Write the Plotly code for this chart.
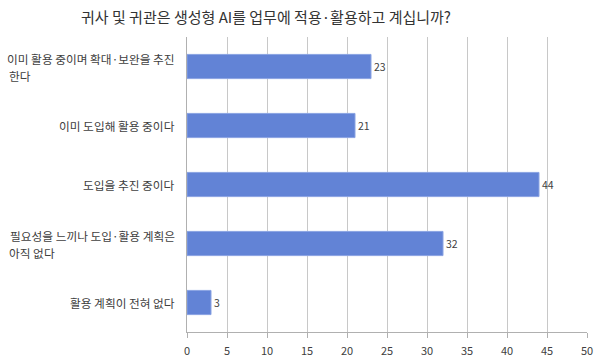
import plotly.graph_objects as go

categories = [
    "이미 활용 중이며 확대·보완을 추진<br>한다",
    "이미 도입해 활용 중이다",
    "도입을 추진 중이다",
    "필요성을 느끼나 도입·활용 계획은<br>아직 없다",
    "활용 계획이 전혀 없다",
]
values = [23, 21, 44, 32, 3]
tick_vals = [0, 5, 10, 15, 20, 25, 30, 35, 40, 45, 50]
title_text = "귀사 및 귀관은 생성형 AI를 업무에 적용·활용하고 계십니까?"

FONT = "Noto Sans CJK KR"

L, R, T, B = 187, 13, 37, 31
W, H = 600, 363
pw = W - L - R
ph = H - T - B

fig = go.Figure()
fig.add_trace(go.Bar(
    y=categories,
    x=values,
    orientation="h",
    marker=dict(color="#6283d6", line=dict(color="#8aa3e3", width=1)),
    text=[str(v) for v in values],
    textposition="outside",
    textfont=dict(family=FONT, size=10.5, color="#404040"),
    cliponaxis=False,
    hoverinfo="skip",
))

label_font = dict(family=FONT, size=11.7, color="#404040")
for c in categories:
    lines = c.split("<br>")
    if len(lines) == 1:
        fig.add_annotation(
            x=0, xref="x", y=c, yref="y", text=c, showarrow=False,
            xanchor="right", yanchor="middle", xshift=-11, borderpad=0,
            font=label_font,
        )
    else:
        fig.add_annotation(
            x=0, xref="x", y=c, yref="y", text=lines[0], showarrow=False,
            xanchor="right", yanchor="middle", xshift=-11, yshift=8.5, borderpad=0,
            font=label_font,
        )
        fig.add_annotation(
            x=(8 - L) / pw, xref="paper", y=c, yref="y", text=lines[1], showarrow=False,
            xanchor="left", yanchor="middle", yshift=-8.5, borderpad=0,
            font=label_font,
        )

fig.add_annotation(
    xref="paper", yref="paper",
    x=(266 - L) / pw, y=((H - 16) - B) / ph,
    xanchor="center", yanchor="middle",
    text=title_text, showarrow=False,
    font=dict(family=FONT, size=15, color="#333333"),
)

fig.update_layout(
    width=W, height=H,
    margin=dict(l=L, r=R, t=T, b=B, autoexpand=False),
    paper_bgcolor="white", plot_bgcolor="white",
    showlegend=False,
    bargap=0.59,
    font=dict(family=FONT, color="#404040"),
)

fig.update_xaxes(
    range=[0, 50], tickvals=tick_vals, ticktext=[str(t) for t in tick_vals],
    showgrid=True, gridcolor="#c8c8c8", gridwidth=1,
    showline=True, linecolor="#b0b0b0", linewidth=1,
    ticks="outside", ticklen=5, tickcolor="#b0b0b0",
    ticklabelstandoff=4,
    tickfont=dict(family=FONT, size=11, color="#404040"),
    zeroline=False, fixedrange=True, automargin=False,
)
fig.update_yaxes(
    categoryorder="array", categoryarray=categories[::-1],
    showticklabels=False,
    showline=True, linecolor="#b0b0b0", linewidth=1,
    ticks="", showgrid=False, fixedrange=True, automargin=False,
)

fig.write_html("out.html")
